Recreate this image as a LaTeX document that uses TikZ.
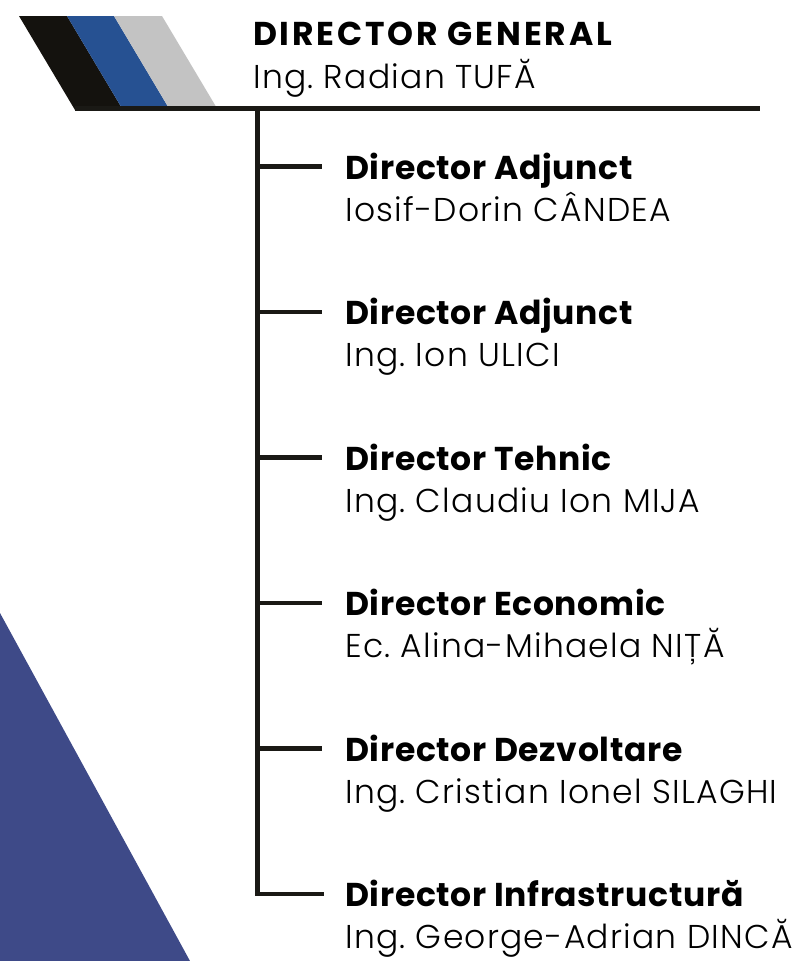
\documentclass[tikz,border=0pt]{standalone}
\usepackage{fontspec}
\setmainfont{Poppins}[UprightFont=* Light, BoldFont=* Bold]
\frenchspacing
\usetikzlibrary{positioning}

\definecolor{inkline}{HTML}{1A1915}
\definecolor{stripeblack}{HTML}{14120E}
\definecolor{stripeblue}{HTML}{265192}
\definecolor{stripegray}{HTML}{C3C3C3}
\definecolor{cornerblue}{HTML}{3E4A88}

\begin{document}
\begin{tikzpicture}[
  x=1pt, y=-1pt,
  link/.style={draw=inkline, line width=4.5pt},
  role/.style={
    anchor=west, inner xsep=23pt, inner ysep=0pt,
    text height=25pt, text depth=0pt,
    font=\fontsize{33}{40}\selectfont\bfseries\addfontfeature{LetterSpace=2}
  },
  person/.style={
    anchor=base west, inner sep=0pt,
    font=\fontsize{33}{40}\selectfont\addfontfeature{LetterSpace=3.8}
  }
]
\useasboundingbox (0,0) rectangle (799,961);

% Decorations
\fill[cornerblue] (0,613) -- (190,961) -- (0,961) -- cycle;
\fill[stripeblack] (19,16) -- (67,16) -- (123,110) -- (75,110) -- cycle;
\fill[stripeblue] (67,16) -- (114,16) -- (170,110) -- (123,110) -- cycle;
\fill[stripegray] (114,16) -- (162,16) -- (218,110) -- (170,110) -- cycle;

% Head
\node[person, font=\fontsize{33}{40}\selectfont\bfseries\addfontfeature{LetterSpace=8.5}] (gen) at (253,45) {DIRECTOR GENERAL};
\node[person] (genname) at ([yshift=-43pt]gen.base west) {Ing. Radian TUFĂ};

\coordinate (lineleft) at (75,108.5);
\coordinate (lineright) at (760,108.5);
\coordinate (trunktop) at (257.5,108.5);

% Row 1
\node[role] (r1) at (322,166.5) {Director Adjunct};
\node[person] (p1) at ([xshift=23pt,yshift=-42pt]r1.base west) {Iosif-Dorin CÂNDEA};

% Row 2
\node[role, below=145.5pt of r1.west, anchor=west] (r2) {Director Adjunct};
\node[person] (p2) at ([xshift=23pt,yshift=-42pt]r2.base west) {Ing. Ion ULICI};

% Row 3
\node[role, below=145.5pt of r2.west, anchor=west] (r3) {Director Tehnic};
\node[person] (p3) at ([xshift=23pt,yshift=-42pt]r3.base west) {Ing. Claudiu Ion MIJA};

% Row 4
\node[role, below=145.5pt of r3.west, anchor=west] (r4) {Director Economic};
\node[person] (p4) at ([xshift=23pt,yshift=-42pt]r4.base west) {Ec. Alina-Mihaela NIȚĂ};

% Row 5
\node[role, below=145.5pt of r4.west, anchor=west] (r5) {Director Dezvoltare};
\node[person] (p5) at ([xshift=23pt,yshift=-42pt]r5.base west) {Ing. Cristian Ionel SILAGHI};

% Row 6
\node[role, below=145.5pt of r5.west, anchor=west] (r6) {Director Infrastructură};
\node[person] (p6) at ([xshift=23pt,yshift=-42pt]r6.base west) {Ing. George-Adrian DINCĂ};

\draw[link] (lineleft) -- (lineright);
\draw[link, line cap=rect] (trunktop) |- (r6.west);
\foreach \i in {1,...,5}
  \draw[link] (trunktop |- r\i.west) -- (r\i.west);
\end{tikzpicture}
\end{document}
